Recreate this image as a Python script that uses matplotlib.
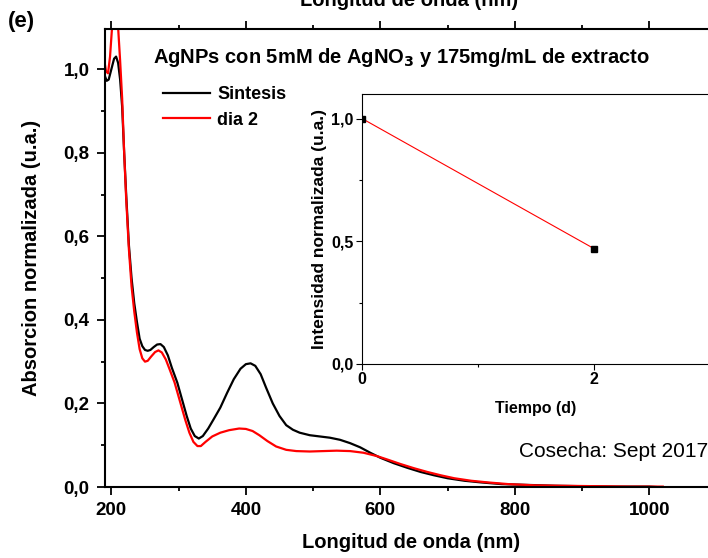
import matplotlib
matplotlib.use("Agg")
import matplotlib.pyplot as plt
from matplotlib.ticker import FuncFormatter, MultipleLocator

plt.rcParams['font.family'] = ['Liberation Sans', 'DejaVu Sans']

# UV-Vis spectra
wl_sintesis = [190, 193, 196, 200, 204, 207, 210, 213, 216, 219, 222, 226, 230, 234,
               238, 242, 246, 250, 254, 258, 263, 268, 273, 278, 284, 290, 298, 305,
               312, 318, 324, 330, 336, 344, 352, 362, 372, 382, 392, 400, 407, 414,
               422, 430, 440, 450, 460, 470, 480, 495, 510, 525, 540, 555, 570, 585,
               600, 620, 640, 660, 680, 700, 725, 750, 780, 820, 860, 900, 950, 1000, 1010]
abs_sintesis = [0.985, 0.972, 0.975, 1.00, 1.025, 1.03, 1.015, 0.975, 0.91, 0.80, 0.70,
                0.58, 0.50, 0.44, 0.395, 0.355, 0.337, 0.328, 0.326, 0.328, 0.335, 0.341,
                0.342, 0.335, 0.315, 0.285, 0.250, 0.210, 0.170, 0.140, 0.122, 0.116,
                0.122, 0.140, 0.162, 0.190, 0.225, 0.258, 0.283, 0.294, 0.296, 0.290,
                0.270, 0.238, 0.200, 0.170, 0.148, 0.137, 0.130, 0.124, 0.121, 0.118,
                0.113, 0.105, 0.095, 0.082, 0.070, 0.057, 0.046, 0.036, 0.028, 0.021,
                0.015, 0.011, 0.007, 0.005, 0.003, 0.002, 0.001, 0.001, 0.0]

wl_dia2 = [190, 192, 195, 198, 201, 204, 207, 210, 213, 216, 219, 222, 226, 230, 234,
           238, 242, 246, 250, 254, 259, 265, 270, 275, 281, 287, 294, 302, 310, 316,
           322, 328, 333, 340, 350, 362, 375, 390, 400, 410, 420, 432, 445, 460, 475,
           495, 515, 535, 555, 575, 595, 610, 630, 650, 670, 690, 710, 735, 760, 790,
           830, 870, 920, 970, 1020]
abs_dia2 = [1.015, 0.995, 0.99, 1.03, 1.10, 1.15, 1.16, 1.10, 1.02, 0.93, 0.80, 0.69,
            0.57, 0.48, 0.42, 0.37, 0.33, 0.308, 0.300, 0.302, 0.312, 0.323, 0.327,
            0.322, 0.305, 0.280, 0.250, 0.205, 0.160, 0.130, 0.108, 0.098, 0.098,
            0.108, 0.121, 0.130, 0.136, 0.140, 0.139, 0.134, 0.124, 0.110, 0.097,
            0.089, 0.086, 0.085, 0.086, 0.087, 0.086, 0.082, 0.074, 0.066, 0.055,
            0.045, 0.036, 0.028, 0.021, 0.015, 0.011, 0.007, 0.004, 0.003, 0.002,
            0.001, 0.001]

# inset: normalized intensity vs time
tiempo = [0, 2]
intensidad = [1.0, 0.47]


def coma(v, pos):
    return f"{v:.1f}".replace('.', ',')


def main():
    fig = plt.figure(figsize=(7.08, 5.58), dpi=100)
    ax = fig.add_axes([0.1483, 0.1272, 0.8638, 0.8208])

    ax.plot(wl_sintesis, abs_sintesis, color='black', lw=1.6, label='Sintesis')
    ax.plot(wl_dia2, abs_dia2, color='#ff0000', lw=1.6, label='dia 2')
    ax.set_xlim(190.5, 1100)
    ax.set_ylim(0, 1.096)
    ax.xaxis.set_major_locator(MultipleLocator(200))
    ax.xaxis.set_minor_locator(MultipleLocator(100))
    ax.yaxis.set_major_locator(MultipleLocator(0.2))
    ax.yaxis.set_minor_locator(MultipleLocator(0.1))
    ax.yaxis.set_major_formatter(FuncFormatter(coma))
    ax.tick_params(which='both', direction='out', width=1.3, top=True,
                   labelsize=13.5, pad=5)
    ax.tick_params(which='major', length=6)
    ax.tick_params(which='minor', length=3)
    for lab in ax.get_xticklabels() + ax.get_yticklabels():
        lab.set_fontweight('bold')
    for s in ax.spines.values():
        s.set_linewidth(1.5)
    ax.set_xlabel('Longitud de onda (nm)', fontsize=14.5, fontweight='bold', labelpad=10)
    ax.set_ylabel('Absorcion normalizada (u.a.)', fontsize=14.5, fontweight='bold', labelpad=16)

    ax.legend(loc='upper left', bbox_to_anchor=(0.230, 0.845),
              bbox_transform=fig.transFigure, frameon=False,
              prop={'size': 13, 'weight': 'bold'}, handlelength=2.6,
              handletextpad=0.4, labelspacing=0.45, borderaxespad=0, borderpad=0)

    fig.text(0.2161, 0.897, 'AgNPs con 5mM de AgNO$_\\mathbf{3}$ y 175mg/mL de extracto',
             fontsize=14.5, fontweight='bold', va='center', ha='left')
    fig.text(0.011, 0.962, '(e)', fontsize=16, fontweight='bold', va='center', ha='left')
    fig.text(0.578, 1.0, 'Longitud de onda (nm)', fontsize=14.5, fontweight='bold',
             va='center', ha='center')
    fig.text(1.0, 0.190, 'Cosecha: Sept 2017', fontsize=15, va='center', ha='right')

    # inset
    ins = fig.add_axes([0.5113, 0.3477, 0.4915, 0.4839])
    ins.plot(tiempo, intensidad, color='#ff0000', lw=0.8)
    ins.plot(tiempo, intensidad, ls='none', marker='s', ms=4.5, color='black')
    ins.set_xlim(0, 3)
    ins.set_ylim(0, 1.1)
    ins.xaxis.set_major_locator(MultipleLocator(2))
    ins.xaxis.set_minor_locator(MultipleLocator(1))
    ins.yaxis.set_major_locator(MultipleLocator(0.5))
    ins.yaxis.set_minor_locator(MultipleLocator(0.25))
    ins.yaxis.set_major_formatter(FuncFormatter(coma))
    ins.tick_params(which='both', direction='out', width=0.8, labelsize=11.5, pad=2)
    ins.tick_params(which='major', length=4)
    ins.tick_params(which='minor', length=2.5)
    for lab in ins.get_xticklabels() + ins.get_yticklabels():
        lab.set_fontweight('bold')
    for s in ins.spines.values():
        s.set_linewidth(0.8)
    ins.set_xlabel('Tiempo (d)', fontsize=11.5, fontweight='bold', labelpad=10)
    ins.set_ylabel('Intensidad normalizada (u.a.)', fontsize=12.5, fontweight='bold', labelpad=3)

    fig.savefig('out.png', dpi=100)
    plt.close(fig)


if __name__ == "__main__":
    main()
